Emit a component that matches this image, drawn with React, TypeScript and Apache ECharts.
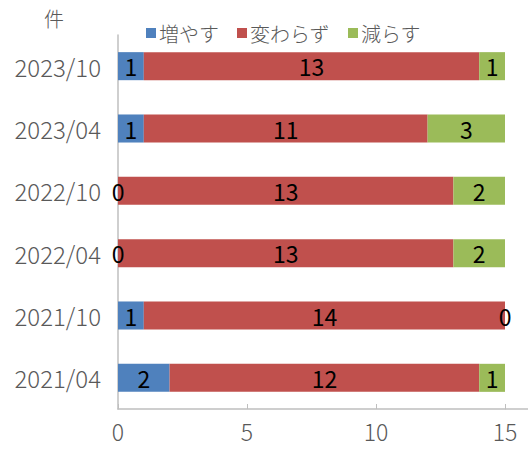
import React, { useEffect, useRef } from "react";
import * as echarts from "echarts";

const categories = ["2021/04", "2021/10", "2022/04", "2022/10", "2023/04", "2023/10"];
const increase = [2, 1, 0, 0, 1, 1];
const unchanged = [12, 14, 13, 13, 11, 13];
const decrease = [1, 0, 2, 2, 3, 1];
const seriesNames = ["増やす", "変わらず", "減らす"];
const colors = ["#4F81BD", "#C0504D", "#9BBB59"];
const xTicks = [0, 5, 10, 15];

const FONT = "'Noto Sans CJK JP', 'Noto Sans', sans-serif";

export default function App() {
  const ref = useRef<HTMLDivElement>(null);
  useEffect(() => {
    if (!ref.current) return;
    const chart = echarts.init(ref.current, undefined, { renderer: "svg" });
    const values = [increase, unchanged, decrease];
    chart.setOption({
      animation: false,
      textStyle: { fontFamily: FONT },
      grid: { left: 118, right: 23, top: 35, bottom: 41 },
      legend: {
        top: 18,
        left: 141,
        itemWidth: 10,
        itemHeight: 10,
        itemGap: 18,
        icon: "rect",
        textStyle: { fontSize: 20, color: "#595959", fontFamily: FONT, fontWeight: 300, padding: [0, 0, 0, -2] },
        data: seriesNames,
      },
      graphic: [
        {
          type: "text",
          left: 44,
          top: 8,
          style: { text: "件", fontSize: 20, fill: "#595959", fontFamily: FONT, fontWeight: 300 },
        },
        {
          type: "line",
          shape: { x1: 505, y1: 409, x2: 528, y2: 409 },
          style: { stroke: "#BFBFBF", lineWidth: 1.5 },
        },
      ],
      xAxis: {
        type: "value",
        min: xTicks[0],
        max: xTicks[xTicks.length - 1],
        interval: 5,
        splitLine: { show: false },
        axisLine: { show: true, lineStyle: { color: "#BFBFBF", width: 1.5 } },
        axisTick: { show: true, inside: true, length: 5, lineStyle: { color: "#BFBFBF" } },
        axisLabel: { fontSize: 23, color: "#595959", margin: 10, fontFamily: FONT, fontWeight: 300 },
      },
      yAxis: {
        type: "category",
        data: categories,
        axisLine: { show: true, lineStyle: { color: "#BFBFBF", width: 1.5 } },
        axisTick: { show: false },
        axisLabel: { fontSize: 24, color: "#595959", margin: 17, fontFamily: FONT, fontWeight: 300 },
      },
      series: seriesNames.map((name, i) => ({
        name,
        type: "bar",
        stack: "total",
        barWidth: "45%",
        data: values[i],
        itemStyle: { color: colors[i] },
        label: {
          show: true,
          position: "inside",
          fontSize: 23,
          color: "#000",
          fontFamily: FONT,
        },
      })),
    });
    return () => chart.dispose();
  }, []);
  return <div ref={ref} style={{ width: 528, height: 450, position: "absolute", left: 0, top: 0 }} />;
}
